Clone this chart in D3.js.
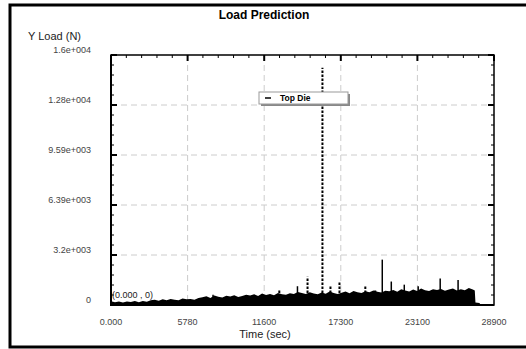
<!DOCTYPE html>
<html>
<head>
<meta charset="utf-8">
<script src="https://cdn.jsdelivr.net/npm/d3@7"></script>
<style>
  body { margin: 0; background: #fff; }
  text { font-family: "Liberation Sans", Arial, sans-serif; }
</style>
</head>
<body>
<svg id="chart" width="526" height="349"></svg>
<script>
// tick labels as printed on the chart
var xTicks = [0, 5780, 11560, 17340, 23120, 28900];
var xTickLabels = ["0.000", "5780", "11600", "17300", "23100", "28900"];
var yTicks = [0, 3196, 6392, 9588, 12784, 15980];
var yTickLabels = ["0", "3.2e+003", "6.39e+003", "9.59e+003", "1.28e+004", "1.6e+004"];

// Top Die load envelope [time (sec), load (N)]
var topDie = [
  [0, 240], [300, 180], [600, 220], [900, 160], [1200, 230], [1500, 190], [1800, 250],
  [2100, 170], [2400, 260], [2700, 210], [3000, 300], [3300, 340], [3600, 270], [3900, 360],
  [4200, 310], [4500, 390], [4800, 330], [5100, 300], [5400, 420], [5700, 360], [6000, 380],
  [6300, 330], [6600, 450], [6900, 490], [7200, 560], [7500, 440], [7800, 610], [8100, 520],
  [8400, 480], [8700, 590], [9000, 540], [9300, 630], [9600, 510], [9900, 570], [10200, 660],
  [10500, 600], [10800, 690], [11100, 570], [11400, 730], [11700, 640], [12000, 710], [12300, 620],
  [12600, 770], [12900, 690], [13200, 660], [13500, 750], [13800, 700], [14100, 830], [14400, 760],
  [14700, 700], [15000, 820], [15300, 740], [15600, 690], [15900, 800], [16200, 720], [16500, 860],
  [16800, 760], [17100, 710], [17400, 790], [17700, 860], [18000, 750], [18300, 900], [18600, 820],
  [18900, 770], [19200, 880], [19500, 810], [19800, 930], [20100, 850], [20400, 800], [20700, 910],
  [21000, 880], [21300, 960], [21600, 850], [21900, 1000], [22200, 920], [22500, 870], [22800, 990],
  [23100, 900], [23400, 1050], [23700, 940], [24000, 890], [24300, 1010], [24600, 960], [24900, 1030],
  [25200, 910], [25500, 990], [25800, 1060], [26100, 930], [26400, 1010], [26700, 950], [27000, 1080],
  [27300, 990], [27450, 920], [27500, 160], [27800, 120], [27900, 0]
];

// isolated peaks [time, load, dotted]
var peaks = [
  [7700, 650, 0], [12700, 950, 1], [14070, 1200, 0], [14830, 1800, 1], [15955, 15170, 1],
  [16560, 1200, 1], [17240, 1500, 1], [19190, 1200, 1], [19940, 1000, 1], [20470, 2900, 0],
  [21150, 1500, 0], [22130, 1300, 0], [23180, 1200, 0], [24840, 1700, 0], [26190, 1600, 0]
];

var svg = d3.select("#chart");
var pLeft = 111, pRight = 494, pTop = 55, pBottom = 305;

var x = d3.scaleLinear().domain([0, 28900]).range([pLeft, pRight]);
var y = d3.scaleLinear().domain([0, 15980]).range([pBottom, pTop]);

// outer frame
svg.append("rect")
  .attr("x", 10).attr("y", 5).attr("width", 530).attr("height", 342)
  .attr("fill", "none").attr("stroke", "#000").attr("stroke-width", 3);

svg.append("text").attr("x", 264).attr("y", 19)
  .attr("text-anchor", "middle").attr("font-size", 12).attr("font-weight", "bold")
  .text("Load Prediction");

// dashed grid
var grid = svg.append("g").attr("stroke", "#cccccc").attr("stroke-dasharray", "6,4");
grid.selectAll(".gx").data(xTicks.slice(1, -1)).enter().append("line")
  .attr("x1", d => x(d)).attr("x2", d => x(d)).attr("y1", pTop).attr("y2", pBottom);
grid.selectAll(".gy").data(yTicks.slice(1, -1)).enter().append("line")
  .attr("y1", d => y(d)).attr("y2", d => y(d)).attr("x1", pLeft).attr("x2", pRight);

// data
var area = d3.area().x(d => x(d[0])).y0(y(0)).y1(d => y(d[1]));
svg.append("path").attr("d", area(topDie)).attr("fill", "#000");

svg.append("g").selectAll("line").data(peaks).enter().append("line")
  .attr("x1", d => x(d[0])).attr("x2", d => x(d[0]))
  .attr("y1", y(0)).attr("y2", d => y(d[1]))
  .attr("stroke", "#000").attr("stroke-width", d => d[2] ? 2 : 1.5)
  .attr("stroke-dasharray", d => d[2] ? "2.5,1.5" : null);

// frame axes
svg.append("rect").attr("x", pLeft).attr("y", pTop)
  .attr("width", pRight - pLeft).attr("height", pBottom - pTop)
  .attr("fill", "none").attr("stroke", "#000").attr("stroke-width", 1.5);
svg.append("line").attr("x1", pLeft).attr("x2", pLeft).attr("y1", pTop).attr("y2", pBottom + 1)
  .attr("stroke", "#000").attr("stroke-width", 2);
svg.append("line").attr("x1", pLeft).attr("x2", pRight).attr("y1", pBottom).attr("y2", pBottom)
  .attr("stroke", "#000").attr("stroke-width", 2);

// minor / major ticks
var xMinor = d3.range(0, 28900 + 1, 1156);
var yMinor = d3.range(0, 15980 + 1, 639.2);
var ticks = svg.append("g").attr("stroke", "#000");
ticks.selectAll(".tx").data(xMinor).enter().append("line")
  .attr("x1", d => x(d)).attr("x2", d => x(d))
  .attr("y1", pTop).attr("y2", (d, i) => i % 5 ? pTop + 3 : pTop + 6)
  .attr("stroke-width", (d, i) => i % 5 ? 1 : 2);
ticks.selectAll(".tl").data(yMinor).enter().append("line")
  .attr("y1", d => y(d)).attr("y2", d => y(d))
  .attr("x1", pLeft).attr("x2", (d, i) => i % 5 ? pLeft + 3 : pLeft + 6)
  .attr("stroke-width", (d, i) => i % 5 ? 1 : 2);
ticks.selectAll(".tr").data(yMinor).enter().append("line")
  .attr("y1", d => y(d)).attr("y2", d => y(d))
  .attr("x1", pRight).attr("x2", (d, i) => i % 5 ? pRight - 3 : pRight - 6)
  .attr("stroke-width", (d, i) => i % 5 ? 1 : 2);

// tick labels
svg.append("g").selectAll("text").data(yTicks).enter().append("text")
  .attr("x", 91).attr("y", d => y(d) - 2)
  .attr("text-anchor", "end").attr("font-size", 9).attr("fill", "#444")
  .text((d, i) => yTickLabels[i]);
svg.append("g").selectAll("text").data(xTicks).enter().append("text")
  .attr("x", d => x(d)).attr("y", 325)
  .attr("text-anchor", "middle").attr("font-size", 9).attr("fill", "#444")
  .text((d, i) => xTickLabels[i]);

svg.append("text").attr("x", 28).attr("y", 40).attr("font-size", 11).attr("fill", "#222")
  .text("Y Load (N)");
svg.append("text").attr("x", 265).attr("y", 338).attr("text-anchor", "middle")
  .attr("font-size", 11).attr("fill", "#222").text("Time (sec)");
svg.append("text").attr("x", 112).attr("y", 298).attr("font-size", 9).attr("fill", "#222")
  .text("(0.000 , 0)");

// legend
var lg = svg.append("g");
lg.append("rect").attr("x", 261).attr("y", 94).attr("width", 89).attr("height", 12)
  .attr("fill", "#888");
lg.append("rect").attr("x", 259).attr("y", 92).attr("width", 89).attr("height", 12)
  .attr("fill", "#fff").attr("stroke", "#999").attr("stroke-width", 1);
lg.append("line").attr("x1", 265).attr("x2", 271).attr("y1", 98).attr("y2", 98)
  .attr("stroke", "#000").attr("stroke-width", 1.5);
lg.append("text").attr("x", 280).attr("y", 101).attr("font-size", 8.5).attr("font-weight", "bold")
  .text("Top Die");
</script>
</body>
</html>
